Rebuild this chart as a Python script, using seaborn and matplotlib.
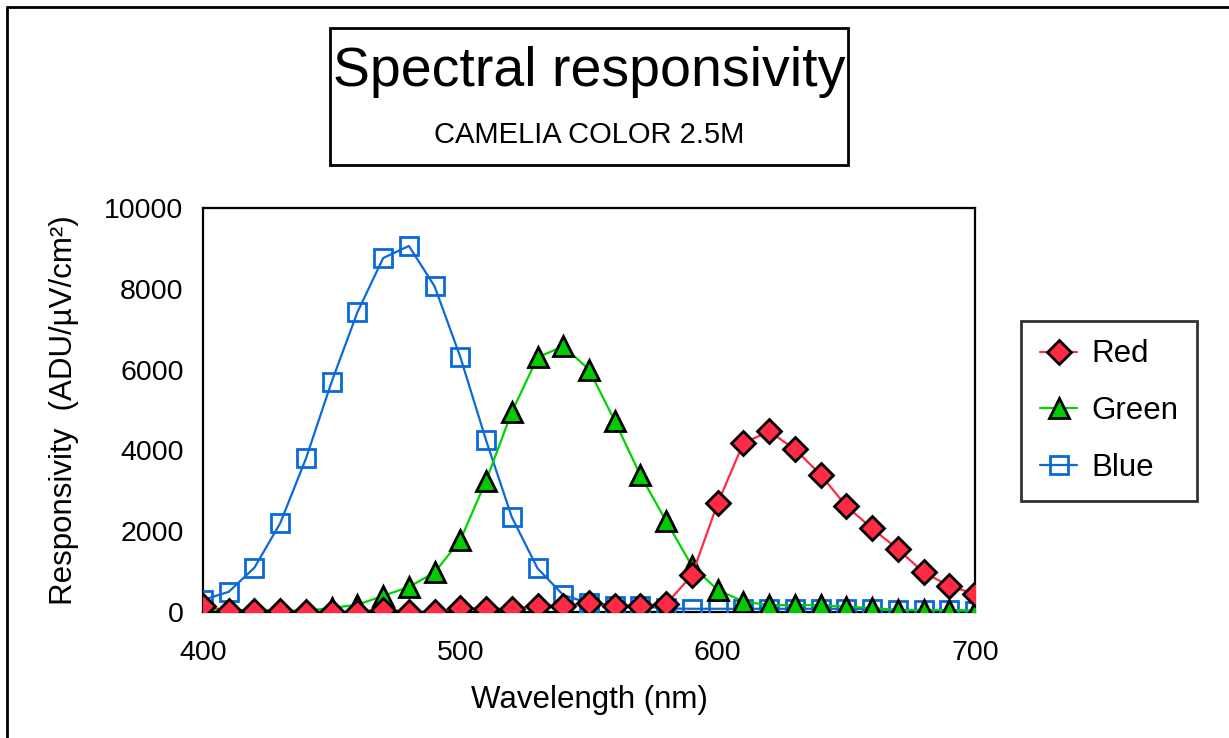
import matplotlib
matplotlib.use("Agg")
import matplotlib.pyplot as plt
from matplotlib.patches import Rectangle
from matplotlib.lines import Line2D
import seaborn as sns

wavelength = list(range(400, 701, 10))
red = [150, 30, 30, 30, 10, 0, 10, 60, 10, 10, 100, 80, 80, 160, 160, 230,
       160, 160, 200, 910, 2690, 4180, 4470, 4030, 3400, 2620, 2070, 1560,
       980, 650, 445]
green = [60, 50, 50, 40, 30, 100, 180, 400, 620, 980, 1780, 3250, 4950, 6300,
         6580, 6000, 4730, 3380, 2250, 1140, 550, 260, 170, 170, 170, 130,
         100, 50, 50, 50, 30]
blue = [300, 500, 1100, 2200, 3800, 5700, 7420, 8760, 9060, 8060, 6310, 4250,
        2350, 1080, 420, 220, 160, 140, 90, 80, 80, 80, 80, 80, 80, 80, 70,
        50, 50, 40, 30]
series_names = ["Red", "Green", "Blue"]

sns.set_style("white")
plt.rcParams["font.family"] = ["Liberation Sans", "DejaVu Sans"]
plt.rcParams["text.color"] = "black"
plt.rcParams["axes.labelcolor"] = "black"
plt.rcParams["xtick.color"] = "black"
plt.rcParams["ytick.color"] = "black"

fig = plt.figure(figsize=(12.29, 7.38), dpi=100)
ax = fig.add_axes([0.1652, 0.1707, 0.6281, 0.5475])

c_red, c_green, c_blue = "#ff2a44", "#00d400", "#0a6ad8"
red_style = dict(marker="D", markersize=12, markerfacecolor=c_red,
                 markeredgecolor="black", markeredgewidth=2)
green_style = dict(marker="^", markersize=15, markerfacecolor="#00cc00",
                   markeredgecolor="black", markeredgewidth=2)
blue_style = dict(marker="s", markersize=13, markerfacecolor="none",
                  markeredgecolor=c_blue, markeredgewidth=2)

sns.lineplot(x=wavelength, y=blue, ax=ax, color=c_blue, lw=1.6, zorder=3,
             **blue_style)
sns.lineplot(x=wavelength, y=green, ax=ax, color=c_green, lw=1.6, zorder=4,
             **green_style)
sns.lineplot(x=wavelength, y=red, ax=ax, color=c_red, lw=1.6, zorder=5,
             **red_style)

ax.set_xlim(400, 700)
ax.set_ylim(0, 10000)
ax.set_xticks([400, 500, 600, 700])
ax.set_yticks(range(0, 10001, 2000))
ax.tick_params(direction="in", length=11, width=1.5, labelsize=20.5,
               color="black")
ax.tick_params(axis="y", pad=14)
ax.tick_params(axis="x", pad=20)
for s in ax.spines.values():
    s.set_color("black")
    s.set_linewidth(1.6)
ax.set_xlabel("Wavelength (nm)", fontsize=22.5, labelpad=14)
ax.set_ylabel("Responsivity  (ADU/\u00b5V/cm\u00b2)", fontsize=22.5, labelpad=18)

handles = [
    Line2D([], [], color=c_red, lw=1.6, **red_style),
    Line2D([], [], color=c_green, lw=1.6, **green_style),
    Line2D([], [], color=c_blue, lw=1.6, **blue_style),
]
leg = fig.legend(handles, series_names, loc="center left",
                 bbox_to_anchor=(1021 / 1229, 1 - 411 / 738), fontsize=22.5,
                 frameon=True, fancybox=False, edgecolor="black",
                 handlelength=1.2, handletextpad=0.45, labelspacing=0.85,
                 borderpad=0.6, borderaxespad=0)
leg.get_frame().set_linewidth(2)

# title box
fig.patches.append(Rectangle((330 / 1229, 1 - 165 / 738), 518 / 1229,
                             137 / 738, transform=fig.transFigure,
                             fill=False, edgecolor="black", lw=2))
fig.text(589 / 1229, 1 - 72 / 738, "Spectral responsivity", fontsize=40,
         ha="center", va="center")
fig.text(589 / 1229, 1 - 135 / 738, "CAMELIA COLOR 2.5M", fontsize=21,
         ha="center", va="center")

# outer frame (top and left edges)
fig.add_artist(Line2D([7 / 1229, 7 / 1229], [0, 1 - 7 / 738],
                      transform=fig.transFigure, color="black", lw=2))
fig.add_artist(Line2D([7 / 1229, 1], [1 - 7 / 738, 1 - 7 / 738],
                      transform=fig.transFigure, color="black", lw=2))

fig.savefig("out.png", dpi=100)
